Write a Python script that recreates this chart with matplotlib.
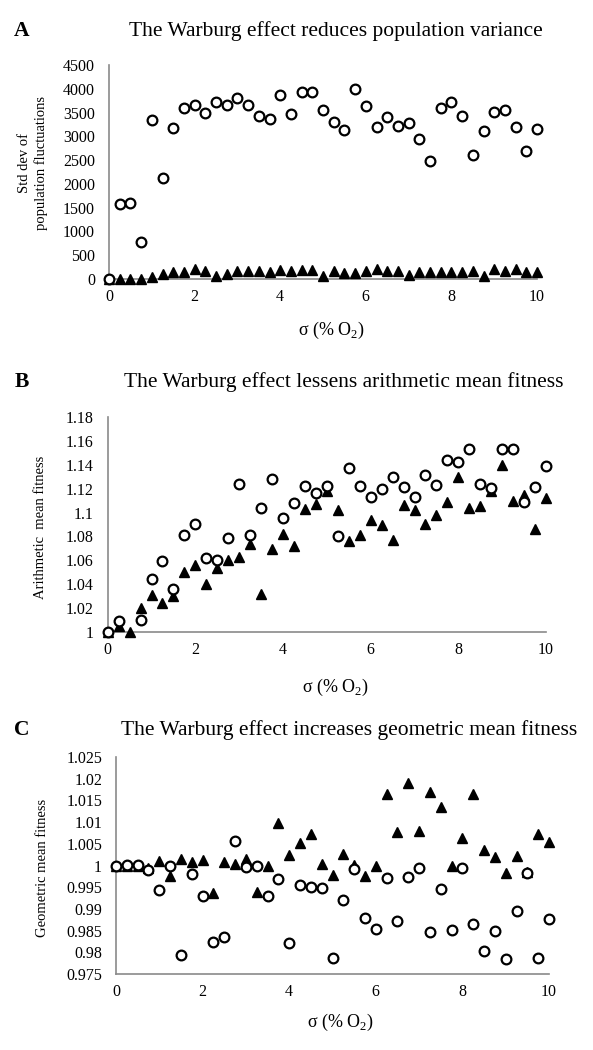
import numpy as np
import matplotlib
matplotlib.use('Agg')
import matplotlib.pyplot as plt

plt.rcParams['font.family'] = ['Liberation Serif', 'DejaVu Serif']
plt.rcParams['mathtext.fontset'] = 'custom'
plt.rcParams['mathtext.rm'] = 'Liberation Serif'

sigma = np.arange(41) * 0.25  # % O2, 0..10 step 0.25

# panel A: std dev of population fluctuations
sd_circ = [0, 1580, 1590, 770, 3340, 2130, 3175, 3595, 3650, 3490,
           3720, 3650, 3800, 3650, 3435, 3355, 3860, 3475, 3925, 3925,
           3555, 3300, 3140, 4000, 3635, 3195, 3415, 3210, 3275, 2935,
           2480, 3600, 3720, 3435, 2600, 3120, 3505, 3560, 3190, 2700, 3155]
sd_tri = [0, 0, 0, 0, 50, 105, 147, 147, 210, 161,
          63, 98, 168, 168, 168, 147, 196, 161, 182, 182,
          63, 160, 119, 119, 168, 210, 175, 161, 84, 140,
          140, 140, 140, 140, 161, 56, 210, 161, 210, 140, 140]

# panel B: arithmetic mean fitness
am_circ = [1.000, 1.0089, np.nan, 1.0098, 1.0446, 1.0594, 1.0359, 1.0811, 1.0906, 1.0619,
           1.0605, 1.0783, 1.1243, 1.0811, 1.1039, 1.1279, 1.0953, 1.1081, 1.1223, 1.1162,
           1.1223, 1.080, 1.137, 1.1223, 1.1134, 1.1195, 1.130, 1.1215, 1.1129, 1.1318,
           1.1229, 1.144, 1.1427, 1.153, 1.1243, 1.1204, 1.153, 1.153, 1.1092, 1.1215, 1.139]
am_tri = [1.000, 1.0053, 1.000, 1.0198, 1.0309, 1.0242, 1.0298, 1.0502, 1.056, 1.0398,
          1.054, 1.0605, 1.0632, 1.0736, 1.0318, 1.0694, 1.0819, 1.0722, 1.1028, 1.1073,
          1.118, 1.1023, 1.0763, 1.0811, 1.0939, 1.0892, 1.0772, 1.1064, 1.1023, 1.0903,
          1.0981, 1.1087, 1.1301, 1.1042, 1.1056, 1.118, 1.1396, 1.1095, 1.1145, 1.0861, 1.112]

# panel C: geometric mean fitness
gm_circ = [1.000, 1.0001, 1.0001, 0.999, 0.9943, 1.000, 0.9794, 0.998, 0.993, 0.9823,
           0.9836, 1.0056, 0.9997, 0.9998, 0.993, 0.9969, 0.9822, 0.9955, 0.9951, 0.9948,
           0.9788, 0.9921, 0.9992, 0.988, 0.9854, 0.9972, 0.9873, 0.9973, 0.9994, 0.9847,
           0.9947, 0.9852, 0.9994, 0.9866, 0.9804, 0.9848, 0.9785, 0.9895, 0.9982, 0.9788, 0.9877]
gm_tri = [1.000, 1.000, 1.000, 0.9995, 1.001, 0.9976, 1.0015, 1.0007, 1.0013, 0.9937,
          1.0007, 1.0003, 1.0016, 0.9938, 0.9998, 1.0097, 1.0024, 1.0052, 1.0073, 1.0004,
          0.9977, 1.0027, 1.0002, 0.9976, 0.9998, 1.0165, 1.0078, 1.0189, 1.008, 1.0169,
          1.0134, 1.000, 1.0064, 1.0165, 1.0036, 1.0019, 0.9983, 1.0023, 0.9985, 1.0073, 1.0055]

W, H = 593, 1050
fig = plt.figure(figsize=(W / 100, H / 100), dpi=100)

def fy(px):
    return 1 - px / H

def panel(x0, x1, ytop, ybot, circ, tri, ylim, yticks, letter, title, title_x, title_base,
          ylabel, ylab_x, ylab_y, xlab_y):
    ax = fig.add_axes([x0 / W, fy(ybot), (x1 - x0) / W, (ybot - ytop) / H])
    ax.plot(sigma, tri, linestyle='none', marker='^', markersize=7.5,
            color='black', clip_on=False, zorder=3)
    ax.plot(sigma, circ, linestyle='none', marker='o', markersize=7,
            markerfacecolor='white', markeredgecolor='black', markeredgewidth=1.6,
            clip_on=False, zorder=4)
    ax.set_xlim(0, 10)
    ax.set_ylim(*ylim)
    ax.set_xticks([0, 2, 4, 6, 8, 10])
    ax.set_yticks(yticks)
    ax.set_yticklabels(['%g' % v for v in yticks])
    for s in ['top', 'right']:
        ax.spines[s].set_visible(False)
    for s in ['left', 'bottom']:
        ax.spines[s].set_color('#8a8a8a')
        ax.spines[s].set_linewidth(1.2)
    ax.tick_params(length=0, labelsize=11.5)
    ax.tick_params(axis='y', pad=10)
    ax.tick_params(axis='x', pad=7)
    fig.text((x0 + x1) / 2 / W + 0.014, fy(xlab_y), 'σ (% O$_2$)', fontsize=13,
             ha='center', va='center')
    fig.text(ylab_x / W, fy(ylab_y), ylabel, rotation=90, ha='center', va='center',
             fontsize=10.5, linespacing=1.35)
    fig.text(0.024, fy(title_base), letter, fontsize=15.5, fontweight='bold', va='baseline')
    fig.text(title_x / W, fy(title_base), title, fontsize=15.5, ha='center', va='baseline')
    return ax

panel(109, 537, 65, 279, sd_circ, sd_tri, (0, 4500), np.arange(0, 4501, 500),
      'A', 'The Warburg effect reduces population variance', 336, 36,
      'Std dev of\npopulation fluctuations', 33, 163, 330)

panel(107.7, 546, 417, 632, am_circ, am_tri, (1, 1.18),
      np.round(np.arange(1, 1.1801, 0.02), 2),
      'B', 'The Warburg effect lessens arithmetic mean fitness', 344, 387,
      'Arithmetic  mean fitness', 41, 527, 687)

panel(116, 549, 757, 974, gm_circ, gm_tri, (0.975, 1.025),
      np.round(np.arange(0.975, 1.02501, 0.005), 3),
      'C', 'The Warburg effect increases geometric mean fitness', 349, 735,
      'Geometric mean fitness', 42, 868, 1022)

fig.savefig('out.png', dpi=100)
